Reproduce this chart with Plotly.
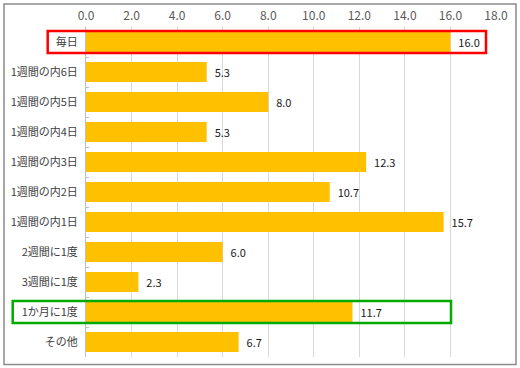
import plotly.graph_objects as go

categories = ["毎日", "1週間の内6日", "1週間の内5日", "1週間の内4日", "1週間の内3日",
              "1週間の内2日", "1週間の内1日", "2週間に1度", "3週間に1度", "1か月に1度", "その他"]
values = [16.0, 5.3, 8.0, 5.3, 12.3, 10.7, 15.7, 6.0, 2.3, 11.7, 6.7]

font = "Noto Sans CJK JP, Noto Sans, sans-serif"

fig = go.Figure(go.Bar(
    x=values, y=categories, orientation="h",
    marker=dict(color="#FFC000", line=dict(width=0)),
    texttemplate="  %{x:.1f}", textposition="outside", cliponaxis=False,
    textfont=dict(size=11, color="#1A1A1A", family=font),
    hoverinfo="skip",
))

fig.update_layout(
    width=520, height=368,
    margin=dict(l=86, r=24, t=27, b=11, autoexpand=False),
    paper_bgcolor="white", plot_bgcolor="white",
    bargap=0.33, showlegend=False,
    font=dict(family=font, color="#595959", size=11),
    xaxis=dict(side="top", range=[0, 18], dtick=2, tickformat=".1f",
               showgrid=True, gridcolor="#D9D9D9", gridwidth=1,
               zeroline=False, showline=False, ticks="",
               automargin=False, ticklabelstandoff=4,
               tickfont=dict(size=12, color="#595959")),
    yaxis=dict(autorange="reversed", showline=True, linecolor="#BFBFBF", linewidth=1,
               ticks="inside", ticklen=3, tickcolor="#BFBFBF", tickson="boundaries",
               showgrid=False, ticksuffix="  ", automargin=False,
               tickfont=dict(size=11, color="#404040")),
    shapes=[
        dict(type="rect", xref="paper", yref="paper",
             x0=(4 - 86) / 410, x1=(516 - 86) / 410,
             y0=(357 - 364.5) / 330, y1=(357 - 4) / 330,
             line=dict(color="#8C8C8C", width=1.5), layer="below"),
        dict(type="rect", xref="paper", yref="y",
             x0=(47.7 - 86) / 410, x1=(486 - 86) / 410,
             y0=-0.37, y1=0.37,
             line=dict(color="#FF0000", width=2.5)),
        dict(type="rect", xref="paper", yref="y",
             x0=(12.7 - 86) / 410, x1=(451 - 86) / 410,
             y0=9 - 0.37, y1=9 + 0.37,
             line=dict(color="#00AA00", width=2.5)),
    ],
)

fig.write_html("out.html", config={"displayModeBar": False},
               post_script="document.body.style.margin='0';")
